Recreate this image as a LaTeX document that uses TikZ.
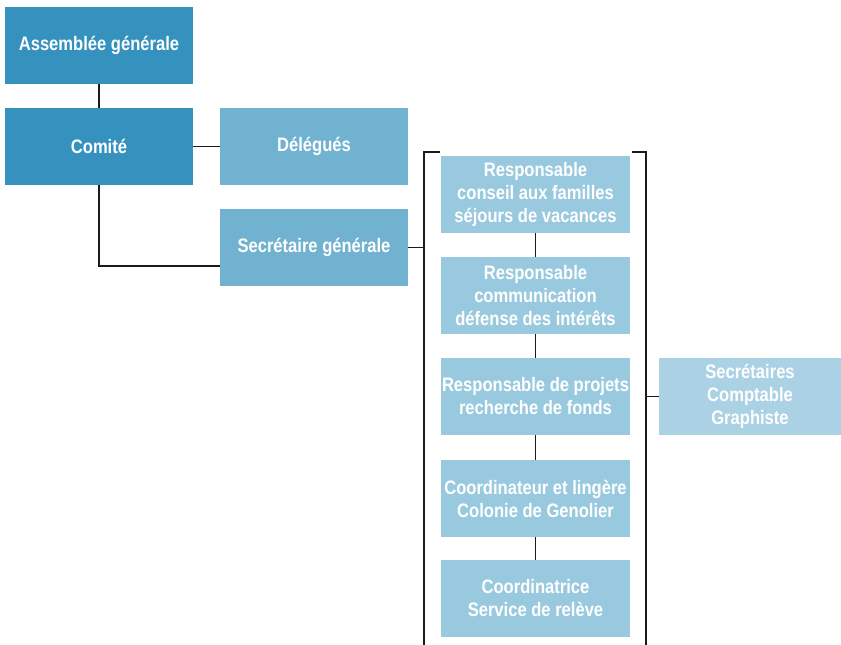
\documentclass[tikz,border=0pt]{standalone}
\usepackage{fontspec}
\setmainfont{Liberation Sans}[FakeStretch=0.85]
\definecolor{cdark}{HTML}{3592BE}
\definecolor{cmid}{HTML}{70B2D0}
\definecolor{clight}{HTML}{99C9DF}
\definecolor{cpale}{HTML}{ABD2E4}
\definecolor{cline}{HTML}{1A1A1A}
\begin{document}
\begin{tikzpicture}[x=1pt,y=-1pt,
  box/.style={rectangle, inner sep=0pt, text=white, align=center,
    font=\fontsize{19.5}{23}\selectfont\bfseries, minimum height=77pt},
  wide/.style={box, minimum width=188pt},
  col/.style={box, fill=clight, minimum width=189pt},
  link/.style={draw=cline, line width=1.5pt}]
\useasboundingbox (0,0) rectangle (841,645);
\node[wide, fill=cdark] (ag) at (99,45.5) {Assemblée générale};
\node[wide, fill=cdark] (com) at (99,146.5) {Comité};
\node[wide, fill=cmid] (del) at (314,146.5) {Délégués};
\node[wide, fill=cmid] (sg) at (314,247.5) {Secrétaire générale};
\node[col] (r1) at (535.5,194.5) {Responsable\\conseil aux familles\\séjours de vacances};
\node[col] (r2) at (535.5,295.5) {Responsable\\communication\\défense des intérêts};
\node[col] (r3) at (535.5,396.5) {Responsable de projets\\recherche de fonds};
\node[col] (r4) at (535.5,498.5) {Coordinateur et lingère\\Colonie de Genolier};
\node[col] (r5) at (535.5,598.5) {Coordinatrice\\Service de relève};
\node[box, fill=cpale, minimum width=182pt] (sec) at (750,396.5) {Secrétaires\\Comptable\\Graphiste};
\coordinate (lbt) at (440,152);
\coordinate (lbc) at (424,152);
\coordinate (lbb) at (424,645);
\coordinate (rbt) at (632,152);
\coordinate (rbc) at (646,152);
\coordinate (rbb) at (646,645);
\coordinate (cturn) at (99,266);
\draw[link] (ag) -- (com);
\draw[link] (com) -- (del);
\draw[link] (com.south) -- (cturn) -- (cturn -| sg.west);
\draw[link] (sg.east) -- (sg.east -| lbc);
\draw[link] (lbt) -- (lbc) -- (lbb);
\draw[link] (rbt) -- (rbc) -- (rbb);
\draw[link] (sec.west -| rbc) -- (sec.west);
\draw[link] (r1) -- (r2);
\draw[link] (r2) -- (r3);
\draw[link] (r3) -- (r4);
\draw[link] (r4) -- (r5);
\end{tikzpicture}
\end{document}
